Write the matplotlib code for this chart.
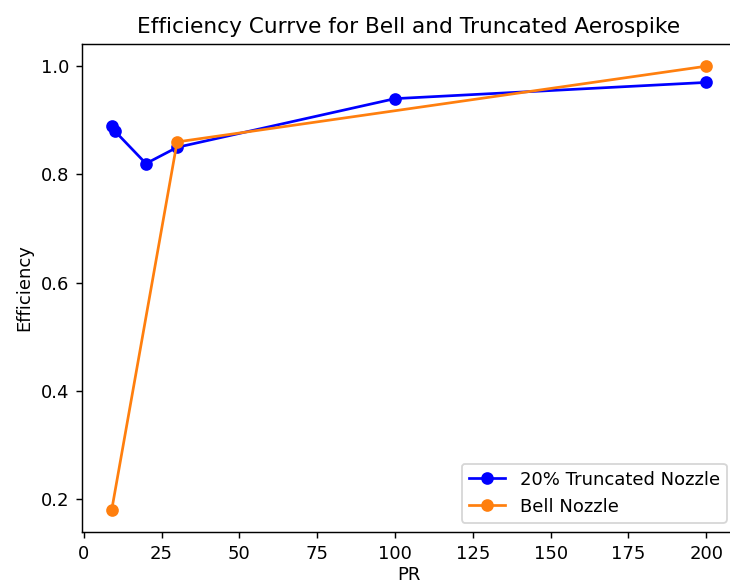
import matplotlib
matplotlib.use("Agg")
import matplotlib.pyplot as plt

pr_truncated = [9, 10, 20, 30, 100, 200]
eff_truncated = [0.89, 0.88, 0.82, 0.85, 0.94, 0.97]
pr_bell = [9, 30, 200]
eff_bell = [0.18, 0.86, 1.0]

W, H, DPI = 730, 585, 130
fig = plt.figure(figsize=(W / DPI, H / DPI), dpi=DPI)
# the axes run slightly past the right edge of the canvas
ax = fig.add_axes([82 / W, (H - 532) / H, 654 / W, 488 / H])

ax.plot(pr_truncated, eff_truncated, "o-", color="blue", label="20% Truncated Nozzle")
ax.plot(pr_bell, eff_bell, "o-", color="#ff7f0e", label="Bell Nozzle")

ax.set_title("Efficiency Currve for Bell and Truncated Aerospike")
ax.set_xlabel("PR", labelpad=2)
ax.set_ylabel("Efficiency")
ax.spines["right"].set_visible(False)
ax.legend(loc="lower right")

fig.savefig("out.png", dpi=DPI)
